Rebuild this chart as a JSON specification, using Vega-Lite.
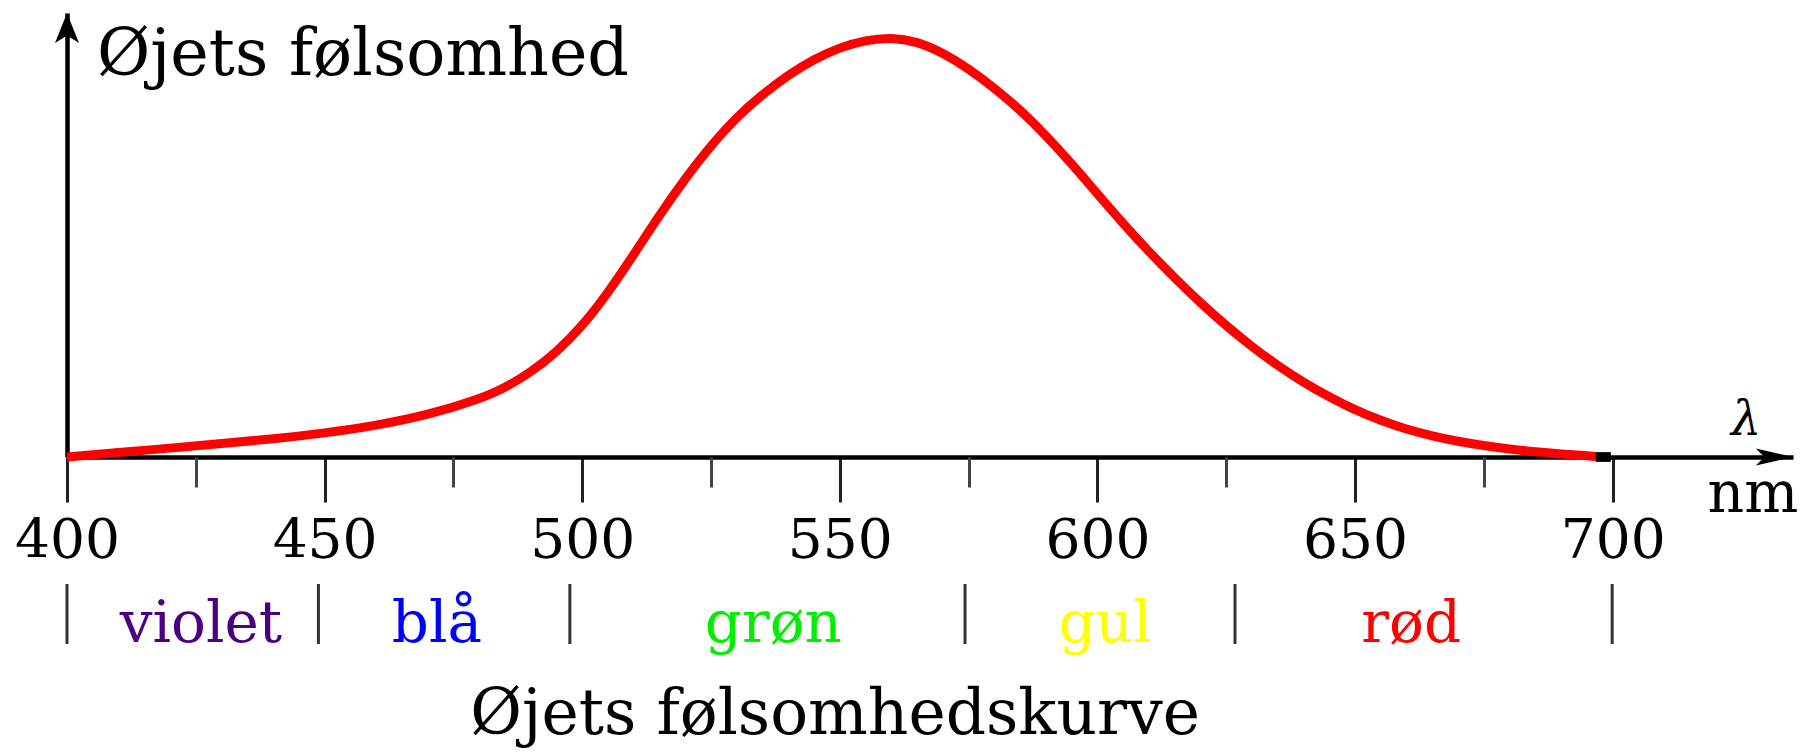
{
  "$schema": "https://vega.github.io/schema/vega-lite/v6.json",
  "width": 1726,
  "height": 444,
  "autosize": {"type": "none"},
  "padding": {"left": 67, "top": 13, "right": 13, "bottom": 295},
  "background": "white",
  "data": {"values": [{}]},
  "config": {
    "view": {"stroke": null},
    "axis": {"grid": false},
    "axisY": {"domain": true, "domainColor": "#000000", "domainWidth": 4.5, "ticks": false, "labels": false, "grid": false}
  },
  "datasets": {
    "curve": [
      {"nm": 400, "sens": 0.000}, {"nm": 410, "sens": 0.011}, {"nm": 420, "sens": 0.021},
      {"nm": 430, "sens": 0.032}, {"nm": 440, "sens": 0.043}, {"nm": 450, "sens": 0.057},
      {"nm": 460, "sens": 0.075}, {"nm": 470, "sens": 0.100}, {"nm": 480, "sens": 0.138},
      {"nm": 485, "sens": 0.165}, {"nm": 490, "sens": 0.202}, {"nm": 495, "sens": 0.250},
      {"nm": 500, "sens": 0.312}, {"nm": 505, "sens": 0.392}, {"nm": 510, "sens": 0.483},
      {"nm": 515, "sens": 0.578}, {"nm": 520, "sens": 0.665}, {"nm": 525, "sens": 0.744},
      {"nm": 530, "sens": 0.812}, {"nm": 535, "sens": 0.866}, {"nm": 540, "sens": 0.912},
      {"nm": 545, "sens": 0.950}, {"nm": 550, "sens": 0.978}, {"nm": 555, "sens": 0.995},
      {"nm": 560, "sens": 1.002}, {"nm": 565, "sens": 0.992}, {"nm": 570, "sens": 0.965},
      {"nm": 575, "sens": 0.927}, {"nm": 580, "sens": 0.881}, {"nm": 585, "sens": 0.829},
      {"nm": 590, "sens": 0.768}, {"nm": 595, "sens": 0.700}, {"nm": 600, "sens": 0.628},
      {"nm": 605, "sens": 0.557}, {"nm": 610, "sens": 0.490}, {"nm": 615, "sens": 0.427},
      {"nm": 620, "sens": 0.368}, {"nm": 625, "sens": 0.313}, {"nm": 630, "sens": 0.263},
      {"nm": 635, "sens": 0.218}, {"nm": 640, "sens": 0.178}, {"nm": 645, "sens": 0.143},
      {"nm": 650, "sens": 0.112}, {"nm": 655, "sens": 0.087}, {"nm": 660, "sens": 0.066},
      {"nm": 665, "sens": 0.050}, {"nm": 670, "sens": 0.037}, {"nm": 675, "sens": 0.027},
      {"nm": 680, "sens": 0.019}, {"nm": 685, "sens": 0.012}, {"nm": 690, "sens": 0.007},
      {"nm": 695, "sens": 0.003}, {"nm": 697, "sens": 0.001}
    ],
    "bands": [
      {"name": "violet", "mid": 426.0, "color": "#4b0082"},
      {"name": "blå", "mid": 471.8, "color": "#0000ff"},
      {"name": "grøn", "mid": 537.1, "color": "#00ee00"},
      {"name": "gul", "mid": 601.5, "color": "#ffff00"},
      {"name": "rød", "mid": 660.9, "color": "#ff0000"}
    ],
    "bounds": [
      {"nm": 400}, {"nm": 448.8}, {"nm": 497.6}, {"nm": 574.3}, {"nm": 626.7}, {"nm": 699.9}
    ]
  },
  "resolve": {"axis": {"x": "independent"}},
  "layer": [
    {
      "data": {"name": "curve"},
      "mark": {"type": "line", "color": "#ff0000", "strokeWidth": 9, "interpolate": "basis"},
      "encoding": {
        "x": {
          "field": "nm", "type": "quantitative",
          "scale": {"domain": [400, 735], "nice": false, "zero": false},
          "axis": {
            "orient": "bottom",
            "title": null, "values": [400, 450, 500, 550, 600, 650, 700],
            "domain": true, "domainColor": "#000000", "domainWidth": 4.5,
            "ticks": true, "tickSize": 45, "tickWidth": 3, "tickColor": "#222222",
            "labels": true, "labelFont": "DejaVu Serif", "labelFontSize": 55, "labelColor": "#000000",
            "labelBaseline": "alphabetic", "labelPadding": 55, "labelFlush": false, "labelOverlap": false,
            "grid": false
          }
        },
        "y": {
          "field": "sens", "type": "quantitative", "title": null,
          "scale": {"domain": [0, 1.06], "nice": false, "zero": true}
        }
      }
    },
    {
      "data": {"name": "bounds"},
      "mark": {"type": "rule", "color": "#333333", "strokeWidth": 3},
      "encoding": {
        "x": {
          "field": "nm", "type": "quantitative",
          "axis": {
            "orient": "bottom",
            "title": null, "values": [425, 475, 525, 575, 625, 675],
            "domain": false, "ticks": true, "tickSize": 30, "tickWidth": 3, "tickColor": "#444444",
            "labels": false, "grid": false
          }
        },
        "y": {"datum": -0.3032, "type": "quantitative", "title": null},
        "y2": {"datum": -0.4464}
      }
    },
    {
      "data": {"name": "bands"},
      "mark": {"type": "text", "font": "DejaVu Serif", "fontSize": 58, "align": "center", "baseline": "alphabetic"},
      "encoding": {
        "x": {"field": "mid", "type": "quantitative", "axis": null},
        "y": {"datum": -0.4417, "type": "quantitative", "title": null},
        "text": {"field": "name"},
        "color": {"field": "color", "type": "nominal", "scale": null}
      }
    },
    {
      "mark": {"type": "point", "shape": "M1,0L-1,-0.46L-0.55,0L-1,0.46Z", "size": 1369, "filled": true, "color": "#000000", "opacity": 1, "strokeWidth": 0},
      "encoding": {
        "x": {"datum": 731.4, "type": "quantitative", "axis": null},
        "y": {"datum": 0, "type": "quantitative", "title": null}
      }
    },
    {
      "mark": {"type": "point", "shape": "M0,-1L0.8,1L0,0.5L-0.8,1Z", "size": 900, "filled": true, "color": "#000000", "opacity": 1, "strokeWidth": 0},
      "encoding": {
        "x": {"datum": 400, "type": "quantitative", "axis": null},
        "y": {"datum": 1.0241, "type": "quantitative", "title": null}
      }
    },
    {
      "mark": {"type": "point", "shape": "M-1,-0.65L1,-0.65L1,0.65L-1,0.65Z", "size": 225, "filled": true, "color": "#000000", "opacity": 1, "strokeWidth": 0},
      "encoding": {
        "x": {"datum": 698.2, "type": "quantitative", "axis": null},
        "y": {"datum": 0, "type": "quantitative", "title": null}
      }
    },
    {
      "mark": {"type": "text", "text": "Øjets følsomhed", "font": "DejaVu Serif", "fontSize": 65, "align": "left", "baseline": "alphabetic", "color": "#000000"},
      "encoding": {
        "x": {"datum": 405.8, "type": "quantitative", "axis": null},
        "y": {"datum": 0.912, "type": "quantitative", "title": null}
      }
    },
    {
      "mark": {"type": "text", "text": "λ", "font": "DejaVu Serif", "fontStyle": "italic", "fontSize": 48, "align": "center", "baseline": "alphabetic", "color": "#000000"},
      "encoding": {
        "x": {"datum": 725.9, "type": "quantitative", "axis": null},
        "y": {"datum": 0.0525, "type": "quantitative", "title": null}
      }
    },
    {
      "mark": {"type": "text", "text": "nm", "font": "DejaVu Serif", "fontSize": 57, "align": "center", "baseline": "alphabetic", "color": "#000000"},
      "encoding": {
        "x": {"datum": 727.2, "type": "quantitative", "axis": null},
        "y": {"datum": -0.1313, "type": "quantitative", "title": null}
      }
    },
    {
      "mark": {"type": "text", "text": "Øjets følsomhedskurve", "font": "DejaVu Serif", "fontSize": 63, "align": "center", "baseline": "alphabetic", "color": "#000000"},
      "encoding": {
        "x": {"datum": 549.1, "type": "quantitative", "axis": null},
        "y": {"datum": -0.662, "type": "quantitative", "title": null}
      }
    }
  ]
}
